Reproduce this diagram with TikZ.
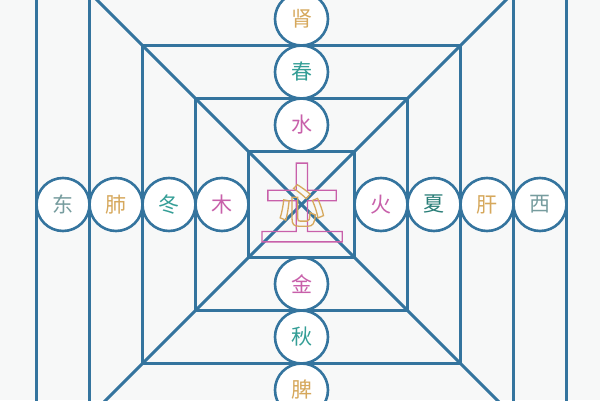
\documentclass[tikz,border=0pt]{standalone}
\usepackage{fontspec}
\newfontfamily\cjk{Noto Sans CJK SC}
\newfontfamily\cjkbold{Noto Sans CJK SC Bold}
\usepackage{tikz}
\usetikzlibrary{positioning}

\definecolor{gridblue}{RGB}{52,116,158}
\definecolor{paper}{RGB}{247,248,248}
\definecolor{organgold}{RGB}{214,168,92}
\definecolor{seasonteal}{RGB}{52,158,150}
\definecolor{elempink}{RGB}{200,96,170}
\definecolor{dirgray}{RGB}{118,156,158}
% outlined glyphs (stroke only)
\newcommand{\hollowtext}[1]{\special{pdf:code 1 Tr 1.3 w}#1\special{pdf:code 0 Tr}}

\begin{document}
\begin{tikzpicture}[x=1pt, y=1pt, node distance=53pt, on grid,
    grid/.style={draw=gridblue, line width=3pt},
    ring/.style={draw=gridblue, circle, fill=white, line width=2.6pt, minimum size=53pt, inner sep=0pt, font=\cjk\fontsize{21}{21}\selectfont}]
    \useasboundingbox [fill=paper] (0,0) rectangle (600,400);
    \clip (0,0) rectangle (600,400);
  \begin{scope}[shift={(301.5,195.5)}]
    % Squares
    \draw [grid] (-53,-53) rectangle (53,53);
    \draw [grid] (-106,-106) rectangle (106,106);
    \draw [grid] (-159,-159) rectangle (159,159);
    \draw [grid] (-212,-212) rectangle (212,212);
    \draw [grid] (-265,-265) rectangle (265,265);
    % Diagonals
    \draw [grid] (-420,-420) -- (420,420);
    \draw [grid] (-420,420) -- (420,-420);

    % Centre
    \node [text=elempink, font=\cjkbold\fontsize{88}{88}\selectfont, inner sep=0pt] (soil) at (0.5,2) {\hollowtext{土}};
    \node [text=organgold, font=\cjkbold\fontsize{46}{46}\selectfont, inner sep=0pt] (heart) at (0,-1) {\hollowtext{心}};

    % Nodes, left row
    \node [ring, text=elempink] (wood) at (-79.5,0) {木};
    \node [ring, text=seasonteal, left=of wood] (winter) {冬};
    \node [ring, text=organgold, left=of winter] (lung) {肺};
    \node [ring, text=dirgray, left=of lung] (east) {东};
    % right row
    \node [ring, text=elempink] (fire) at (79.5,0) {火};
    \node [ring, text=seasonteal!80!black, right=of fire] (summer) {夏};
    \node [ring, text=organgold, right=of summer] (liver) {肝};
    \node [ring, text=dirgray, right=of liver] (west) {西};
    % upper column
    \node [ring, text=elempink] (water) at (0,79.5) {水};
    \node [ring, text=seasonteal, above=of water] (spring) {春};
    \node [ring, text=organgold, above=of spring] (kidney) {肾};
    % lower column
    \node [ring, text=elempink] (metal) at (0,-79.5) {金};
    \node [ring, text=seasonteal, below=of metal] (autumn) {秋};
    \node [ring, text=organgold, below=of autumn] (spleen) {脾};
  \end{scope}
\end{tikzpicture}
\end{document}
